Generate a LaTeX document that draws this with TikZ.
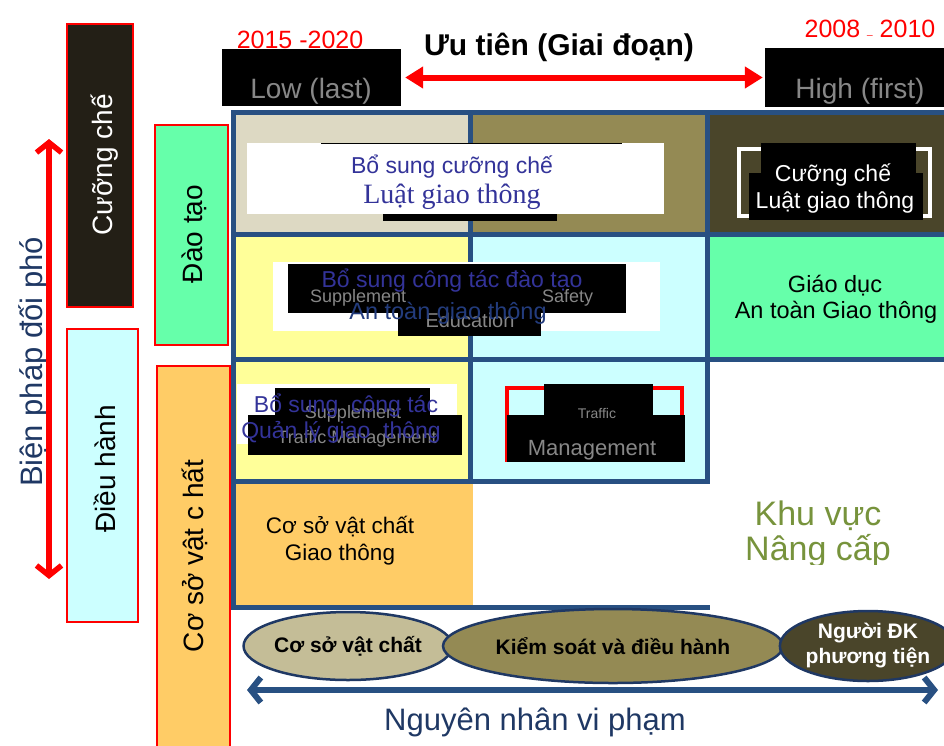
\documentclass[tikz,border=0pt]{standalone}
\usepackage{fontspec}
\setmainfont{Liberation Sans}
\newfontfamily\timesfont{Liberation Serif}
\usetikzlibrary{arrows.meta,shapes.geometric}

\definecolor{gridblue}{RGB}{40,80,130}
\definecolor{beige}{RGB}{221,217,195}
\definecolor{olive}{RGB}{148,138,84}
\definecolor{darkolive}{RGB}{74,69,42}
\definecolor{paleyellow}{RGB}{255,255,153}
\definecolor{palecyan}{RGB}{204,255,255}
\definecolor{mint}{RGB}{102,255,170}
\definecolor{sand}{RGB}{255,204,102}
\definecolor{khaki}{RGB}{196,189,151}
\definecolor{inkblue}{RGB}{51,51,153}
\definecolor{deepblue}{RGB}{35,60,125}
\definecolor{navy}{RGB}{31,56,100}
\definecolor{leaf}{RGB}{119,147,60}
\definecolor{nearblack}{RGB}{35,31,22}
\definecolor{dotgray}{RGB}{135,135,135}

\newcommand\fsz[2]{\fontsize{#1}{#2}\selectfont}

\begin{document}
\begin{tikzpicture}[x=1pt,y=-1pt,
  sidebar/.style={draw=red,line width=1.2pt},
  sidetext/.style={rotate=90,anchor=base,inner sep=0,font=\fsz{28}{32}},
  lbl/.style={anchor=base,inner sep=0},
  ghost/.style={anchor=base,inner sep=0,text=dotgray},
  gridline/.style={draw=gridblue,line width=5pt},
  blackbox/.style={fill=black,inner sep=0},
  oval/.style={ellipse,draw=navy,line width=2.5pt,inner sep=0,align=center,
    font=\bfseries\fsz{21}{25}},
  redarrow/.style={draw=red,line width=6pt,
    {Triangle[length=18pt,width=21pt]}-{Triangle[length=18pt,width=21pt]}},
  barbarrow/.style={line width=5.5pt,
    {Straight Barb[length=10pt,width=25pt]}-{Straight Barb[length=10pt,width=25pt]}}
]
\useasboundingbox (0,0) rectangle (944,745);

% ---- left-hand category bars ----
\draw[sidebar,fill=nearblack] (67,24) rectangle (133,307);
\draw[sidebar,fill=palecyan] (67,329) rectangle (138,622);
\draw[sidebar,fill=mint] (155,125) rectangle (228,345);
\draw[sidebar,fill=sand] (157,366) rectangle (230,752);

\node[sidetext,text=white] (enforce) at (112,165) {Cưỡng chế};
\node[sidetext] (operate) at (115,469) {Điều hành};
\node[sidetext] (train) at (202,234) {Đào tạo};
\node[sidetext] (infra) at (203,556) {Cơ sở vật c hất};
\node[sidetext,text=navy,font=\fsz{31}{35}] (measures) at (42,362) {Biện pháp đối phó};

\coordinate (mTop) at (49,139);
\coordinate (mBot) at (49,579);
\draw[barbarrow,red] (mTop) -- (mBot);

% ---- priority header ----
\node[blackbox,minimum width=179pt,minimum height=57pt] (low) at (311.5,77.5) {};
\node[blackbox,minimum width=179pt,minimum height=59pt] (high) at (854.5,77.5) {};
\node[ghost,font=\fsz{28}{30}] (lowtxt) at (311,98) {Low (last)};
\node[ghost,font=\fsz{28}{30}] (hightxt) at (860,98) {High (first)};
\draw[redarrow,shorten <=4pt,shorten >=2pt] (low.east) -- (high.west);

\node[lbl,text=red,font=\fsz{25}{28}] (yearsA) at (300,48) {2015 -2020};
\node[lbl,font=\bfseries\fsz{30}{34}] (prio) at (559,55) {Ưu tiên (Giai đoạn)};
\node[lbl,text=red,font=\fsz{25}{28}] (yearsB) at (870,37)
  {2008 \raisebox{3pt}{\fsz{10}{10}\_} 2010};

% ---- matrix cells ----
\fill[beige] (233,112) rectangle (470,234);
\fill[olive] (470,112) rectangle (707,234);
\fill[darkolive] (707,112) rectangle (944,234);
\fill[paleyellow] (233,234) rectangle (470,481);
\fill[palecyan] (470,234) rectangle (707,481);
\fill[mint] (707,234) rectangle (944,359);
\fill[sand] (233,481) rectangle (473,607);

\draw[gridline] (231,112) -- (944,112);
\draw[gridline] (231,234) -- (944,234);
\draw[gridline] (231,359) -- (944,359);
\draw[gridline] (231,481) -- (709.5,481);
\draw[gridline] (231,607) -- (710,607);
\draw[gridline] (233,110) -- (233,609.5);
\draw[gridline] (470,110) -- (470,483.5);
\draw[gridline] (707,110) -- (707,483.5);

% ---- label panels inside the cells ----
\fill[white] (247,143) rectangle (664,214);
\draw[black,line width=1pt] (321,143) -- (622,143);
\fill[black] (383,214) rectangle (557,221);

\draw[white,line width=4pt] (739,149) rectangle (930,216);
\fill[black] (761,143) rectangle (916,173);
\fill[black] (749,173) rectangle (923,220);

\fill[white] (273,262) rectangle (660,331);
\fill[black] (288,264) rectangle (626,313);
\fill[black] (398,313) rectangle (541,336);

\fill[white] (237,384) rectangle (457,444);
\fill[black] (275,388) rectangle (430,415);
\fill[black] (248,415) rectangle (462,455);

\draw[red,line width=4pt] (507,462) -- (507,388) -- (682,388) -- (682,420);
\fill[black] (544,384) rectangle (653,415);
\fill[black] (507,415) rectangle (685,462);

% faint English captions
\node[ghost,font=\fsz{18}{20},anchor=base west] (gSupA) at (310,302) {Supplement};
\node[ghost,font=\fsz{18}{20},anchor=base west] (gSafe) at (542,302) {Safety};
\node[ghost,font=\fsz{20}{22}] (gEdu) at (470,327) {Education};
\node[ghost,font=\fsz{18}{20}] (gSupB) at (353,418) {Supplement};
\node[ghost,font=\fsz{18}{20}] (gTM) at (357,443) {Traffic Management};
\node[ghost,font=\fsz{14}{16}] (gTr) at (597,418) {Traffic};
\node[ghost,font=\fsz{22}{24}] (gMan) at (592,455) {Management};

% cell texts
\node[lbl,text=inkblue,font=\fsz{23}{26}] (c1a) at (452,173) {Bổ sung cưỡng chế};
\node[lbl,text=inkblue,font=\timesfont\fsz{28}{30}] (c1b) at (452,203) {Luật giao thông};
\node[lbl,text=white,font=\fsz{23}{26}] (c3a) at (833,181) {Cưỡng chế};
\node[lbl,text=white,font=\fsz{23}{26}] (c3b) at (835,208) {Luật giao thông};
\node[lbl,text=inkblue,font=\fsz{23}{26}] (c4a) at (452,287) {Bổ sung công tác đào tạo};
\node[lbl,text=deepblue,font=\fsz{23.5}{26}] (c4b) at (448,319) {An toàn giao thông};
\node[lbl,font=\fsz{23.5}{26}] (c6a) at (835,292) {Giáo dục};
\node[lbl,font=\fsz{23.5}{26}] (c6b) at (836,318) {An toàn Giao thông};
\node[lbl,text=inkblue,font=\fsz{23}{26}] (c7a) at (346,412) {Bổ sung\ \ công tác};
\node[lbl,text=inkblue,font=\fsz{23}{26}] (c7b) at (341,438) {Quản lý giao\ \ thông};
\node[lbl,font=\fsz{22.5}{26}] (c10a) at (340,533) {Cơ sở vật chất};
\node[lbl,font=\fsz{22.5}{26}] (c10b) at (340,560) {Giao thông};

\begin{scope}
  \clip (700,470) rectangle (944,564);
  \node[lbl,text=leaf,font=\fsz{34}{38}] (upA) at (818,525) {Khu vực};
  \node[lbl,text=leaf,font=\fsz{34}{38}] (upB) at (818,560) {Nâng cấp};
\end{scope}

% ---- causes axis ----
\node[oval,fill=khaki,minimum width=190pt,minimum height=68pt] (e1) at (348,646) {Cơ sở vật chất};
\node[oval,fill=olive,minimum width=340pt,minimum height=74pt] (e2) at (613,646) {Kiểm soát và điều hành};
\node[oval,fill=darkolive,text=white,minimum width=168pt,minimum height=70pt] (e3) at (868,646) {Người ĐK\\phương tiện};

\coordinate (cL) at (247,690);
\coordinate (cR) at (938,690);
\draw[barbarrow,draw=gridblue,line width=6pt] (cL) -- (cR);
\node[lbl,text=navy,font=\fsz{31}{35}] (causes) at (535,730) {Nguyên nhân vi phạm};
\end{tikzpicture}
\end{document}
